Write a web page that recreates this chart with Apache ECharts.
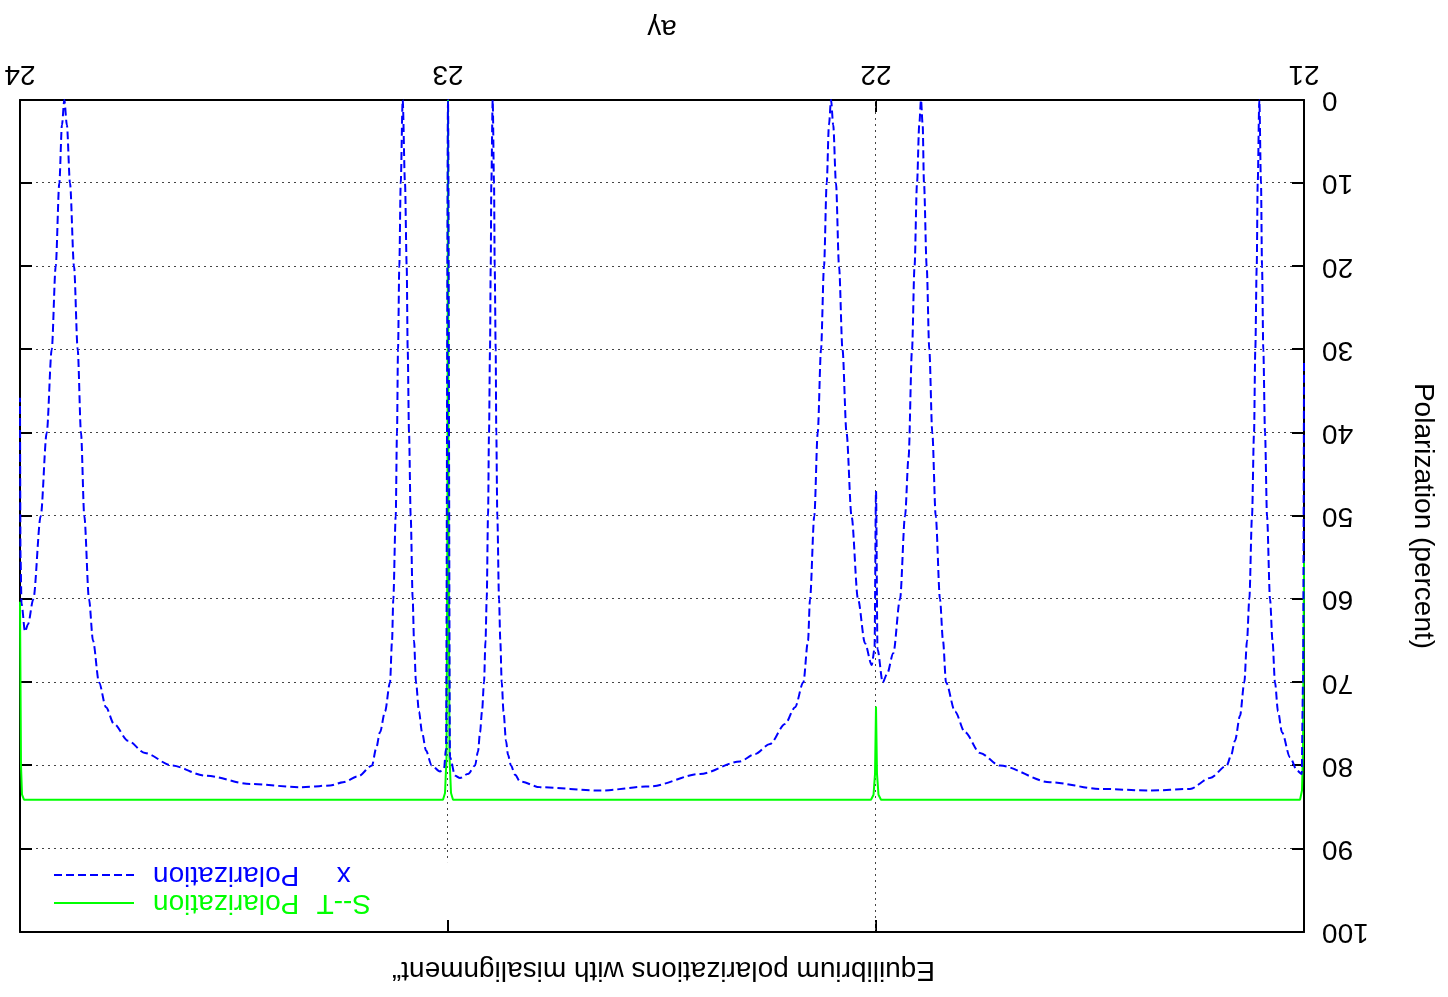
<!DOCTYPE html>
<html><head><meta charset="utf-8">
<script src="https://cdn.jsdelivr.net/npm/echarts@6/dist/echarts.min.js"></script>
<style>
html,body{margin:0;padding:0;background:#fff;overflow:hidden}
#chart{width:1448px;height:997px;transform:rotate(180deg);transform-origin:50% 50%;}
</style></head><body><div id="chart"></div>
<script>
const titleText = 'Equilibrium polarizations with misalignment\u201C';
const xName = 'a\u03B3';
const yName = 'Polarization (percent)';
const seriesNames = ['S--T Polarization', 'x Polarization'];
const seriesColors = ['#00ff00', '#0000ff'];

// vertical grid lines: a-gamma position and upper end (percent)
const xGridAt = [22, 23];
const xGridTop = [100, 91.6];

// S--T polarization (green): [a-gamma, percent]
const stPolarization = [
  [21.0000,55.4],[21.0023,78],[21.0047,83],[21.0093,84.1],
  [21.9883,84.1],[21.9942,83.5],[21.9977,81],[22.0000,72.9],[22.0023,81],[22.0058,83.5],[22.0117,84.1],
  [22.9883,84.1],[22.9930,83.3],[22.9965,79],[22.9988,50],[23.0000,0],[23.0012,50],[23.0035,79],[23.0070,83.3],[23.0117,84.1],
  [23.9907,84.1],[23.9953,83.5],[23.9977,80],[24.0000,60.3]
];

// x polarization (blue dashed): [a-gamma, percent]
const xPolarization = [
  [21.0000,31.6],[21.0023,70],[21.0054,81],[21.0164,80.6],[21.0327,79],[21.0514,76],[21.0607,73.5],[21.0678,70],
  [21.0736,65],[21.0794,60],[21.0864,50],[21.0911,40],[21.0951,30],[21.0981,20],[21.1005,10],[21.1044,0],
  [21.1082,10],[21.1105,20],[21.1138,30],[21.1168,40],[21.1215,50],[21.1278,60],[21.1332,65],[21.1395,70],
  [21.1495,74],[21.1612,77],[21.1706,78.8],[21.1806,80],[21.2196,81.5],[21.2664,82.8],[21.3598,83],[21.4766,82.8],
  [21.5935,82],[21.7103,80],[21.7570,78.5],[21.7921,76],[21.8154,73.5],[21.8364,70],[21.8435,65],[21.8505,60],
  [21.8605,50],[21.8685,40],[21.8755,30],[21.8816,20],[21.8879,10],[21.8910,3],[21.8949,0],[21.8990,3],
  [21.9042,10],[21.9100,20],[21.9159,30],[21.9240,43],[21.9322,50],[21.9439,60],[21.9596,66.5],[21.9743,69],
  [21.9843,70],[21.9965,66],[22.0000,47],[22.0035,66],[22.0100,67.9],[22.0257,65.3],[22.0421,60],[22.0572,50],
  [22.0689,40],[22.0783,30],[22.0864,20],[22.0935,10],[22.1000,3],[22.1051,0],[22.1100,3],[22.1152,10],
  [22.1215,20],[22.1285,30],[22.1362,40],[22.1442,50],[22.1542,60],[22.1589,65],[22.1698,70],[22.1893,73],
  [22.2126,75],[22.2477,77.4],[22.2827,78.6],[22.3178,79.5],[22.4112,81],[22.5280,82.5],[22.6449,83],[22.7850,82.6],
  [22.8318,81.9],[22.8435,81.1],[22.8528,80],[22.8598,78.7],[22.8645,77],[22.8703,73.5],[22.8745,70],[22.8778,65],
  [22.8808,60],[22.8848,50],[22.8872,40],[22.8886,30],[22.8909,20],[22.8925,10],[22.8956,0],[22.8988,10],
  [22.9002,20],[22.9019,30],[22.9042,40],[22.9065,50],[22.9096,60],[22.9124,65],[22.9159,70],[22.9206,73.5],
  [22.9252,76],[22.9299,78.3],[22.9369,80],[22.9533,81],[22.9720,81.5],[22.9836,81.2],[22.9953,79],[23.0000,0],
  [23.0047,78],[23.0093,80.3],[23.0187,80.7],[23.0381,80],[23.0514,78.2],[23.0607,76],[23.0678,73.5],[23.0748,70],
  [23.0794,65],[23.0825,60],[23.0872,50],[23.0911,40],[23.0942,30],[23.0965,20],[23.1005,10],[23.1059,0],
  [23.1105,10],[23.1138,20],[23.1168,30],[23.1192,40],[23.1222,50],[23.1278,60],[23.1308,65],[23.1355,70],
  [23.1472,73.5],[23.1589,76],[23.1682,78],[23.1776,80],[23.2103,81.3],[23.2453,82],[23.2757,82.4],[23.3458,82.6],
  [23.4626,82.2],[23.5678,81.2],[23.6449,80],[23.7079,78.5],[23.7477,77],[23.7804,75],[23.7991,73],[23.8154,70],
  [23.8294,65],[23.8388,60],[23.8498,50],[23.8575,40],[23.8652,30],[23.8738,20],[23.8832,10],[23.8905,3],
  [23.8965,0],[23.9020,3],[23.9082,10],[23.9166,20],[23.9259,30],[23.9376,40],[23.9516,50],[23.9689,60],
  [23.9813,63],[23.9883,63.9],[23.9965,60.5],[23.9988,55],[24.0000,35.8]
];

const byX = (p, q) => p[0] - q[0];
const seriesData = [stPolarization.slice().sort(byX), xPolarization.slice().sort(byX)];

const FONT = '"Liberation Sans", Arial, sans-serif';
const chart = echarts.init(document.getElementById('chart'), null, {renderer: 'canvas'});

const axisLineStyle = {color: '#000', width: 2};
const gridLineStyle = {color: '#444', type: [2, 4], width: 1};

chart.setOption({
  animation: false,
  backgroundColor: '#fff',
  textStyle: {fontFamily: FONT},
  title: {
    text: titleText, left: 513, top: 13, padding: 0,
    textStyle: {fontFamily: FONT, fontSize: 28, fontWeight: 'normal', color: '#000'}
  },
  legend: {
    orient: 'vertical', right: 53, top: 80, padding: 0, itemGap: 0,
    itemWidth: 80, itemHeight: 14, align: 'right',
    itemStyle: {opacity: 0},
    data: seriesNames.map((n, i) => ({
      name: n,
      itemStyle: {opacity: 0},
      textStyle: {
        color: seriesColors[i],
        rich: {
          a: {width: 89, align: 'center', fontSize: 28, lineHeight: 28, color: seriesColors[i], fontFamily: FONT},
          b: {fontSize: 28, lineHeight: 28, color: seriesColors[i], fontFamily: FONT, padding: [0, 14, 0, 0]}
        }
      }
    })),
    formatter: n => { const p = n.split(' '); return '{a|' + p[0] + '}{b|' + p[1] + '}'; }
  },
  grid: {left: 144, right: 20, top: 65, bottom: 100, containLabel: false},
  xAxis: [{
    type: 'value', min: 21, max: 24, interval: 1, position: 'bottom',
    name: xName, nameLocation: 'middle', nameGap: 58,
    nameTextStyle: {fontFamily: FONT, fontSize: 28, color: '#000'},
    axisLine: {onZero: false, lineStyle: axisLineStyle},
    axisTick: {inside: true, length: 12, lineStyle: axisLineStyle},
    axisLabel: {fontFamily: FONT, fontSize: 28, margin: 12, color: '#000'},
    splitLine: {show: false}
  }, {
    type: 'value', min: 21, max: 24, interval: 1, position: 'top',
    axisLine: {onZero: false, lineStyle: axisLineStyle},
    axisTick: {inside: true, length: 12, lineStyle: axisLineStyle},
    axisLabel: {show: false}, splitLine: {show: false}
  }],
  yAxis: [{
    type: 'value', min: 0, max: 100, interval: 10, position: 'left',
    name: yName, nameLocation: 'middle', nameGap: 105, nameRotate: 90,
    nameTextStyle: {fontFamily: FONT, fontSize: 28, color: '#000'},
    axisLine: {onZero: false, lineStyle: axisLineStyle},
    axisTick: {inside: true, length: 12, lineStyle: axisLineStyle},
    axisLabel: {fontFamily: FONT, fontSize: 28, margin: 18, color: '#000'},
    splitLine: {show: true, lineStyle: gridLineStyle}
  }, {
    type: 'value', min: 0, max: 100, interval: 10, position: 'right',
    axisLine: {onZero: false, lineStyle: axisLineStyle},
    axisTick: {inside: true, length: 12, lineStyle: axisLineStyle},
    axisLabel: {show: false}, splitLine: {show: false}
  }],
  series: [{
    name: seriesNames[0], type: 'line', data: seriesData[0], z: 2,
    xAxisIndex: 0, yAxisIndex: 0, symbol: 'none', showSymbol: false,
    color: seriesColors[0], lineStyle: {color: seriesColors[0], width: 2}, clip: true,
    markLine: {
      silent: true, symbol: ['none', 'none'], z: 1, animation: false,
      label: {show: false},
      lineStyle: gridLineStyle,
      emphasis: {disabled: true},
      data: xGridAt.map((x, i) => [{coord: [x, 0]}, {coord: [x, xGridTop[i]]}])
    }
  }, {
    name: seriesNames[1], type: 'line', data: seriesData[1], z: 3,
    xAxisIndex: 0, yAxisIndex: 0, symbol: 'none', showSymbol: false,
    smooth: 0.3, smoothMonotone: 'x',
    color: seriesColors[1], lineStyle: {color: seriesColors[1], width: 2, type: [8, 4]}, clip: true
  }]
});
</script></body></html>
